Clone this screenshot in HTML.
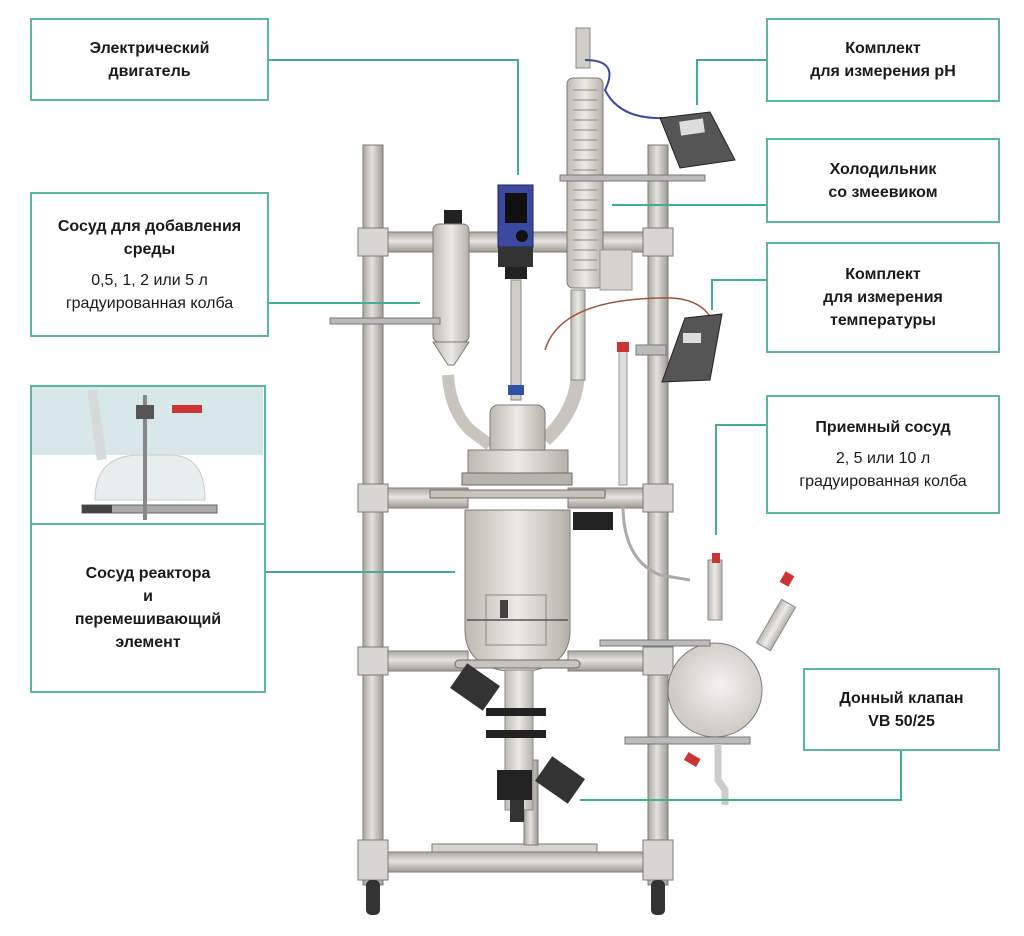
<!DOCTYPE html>
<html><head><meta charset="utf-8"><style>
html,body{margin:0;padding:0;background:#fff;}
body{width:1024px;height:936px;position:relative;overflow:hidden;font-family:"Liberation Sans","DejaVu Sans",sans-serif;}
.box{position:absolute;border:2px solid #5cb89c;background:#fff;box-sizing:border-box;text-align:center;color:#1a1a1a;font-size:16px;line-height:23px;display:flex;flex-direction:column;justify-content:center;}
.b{font-weight:bold;}
svg{position:absolute;left:0;top:0;}
</style></head><body>
<svg width="1024" height="936" viewBox="0 0 1024 936">
<defs>
<linearGradient id="pv" x1="0" x2="1"><stop offset="0" stop-color="#a9a59e"/><stop offset=".45" stop-color="#e4e2de"/><stop offset="1" stop-color="#9d9992"/></linearGradient>
<linearGradient id="ph" x1="0" x2="0" y1="0" y2="1"><stop offset="0" stop-color="#a9a59e"/><stop offset=".45" stop-color="#e6e4e0"/><stop offset="1" stop-color="#9d9992"/></linearGradient>
<linearGradient id="gl" x1="0" x2="1"><stop offset="0" stop-color="#bdb9b2"/><stop offset=".5" stop-color="#eceae6"/><stop offset="1" stop-color="#b5b1aa"/></linearGradient>
<radialGradient id="fl" cx=".55" cy=".45"><stop offset="0" stop-color="#f4f3f1"/><stop offset="1" stop-color="#cfccc6"/></radialGradient>
</defs>
<!-- frame poles -->
<rect x="363" y="145" width="20" height="740" fill="url(#pv)" stroke="#7d7a74"/>
<rect x="648" y="145" width="20" height="740" fill="url(#pv)" stroke="#7d7a74"/>
<!-- horizontal bars -->
<rect x="383" y="232" width="265" height="20" fill="url(#ph)" stroke="#7d7a74"/>
<rect x="383" y="488" width="85" height="20" fill="url(#ph)" stroke="#7d7a74"/>
<rect x="568" y="488" width="80" height="20" fill="url(#ph)" stroke="#7d7a74"/>
<rect x="383" y="651" width="85" height="20" fill="url(#ph)" stroke="#7d7a74"/>
<rect x="568" y="651" width="80" height="20" fill="url(#ph)" stroke="#7d7a74"/>
<rect x="383" y="852" width="265" height="20" fill="url(#ph)" stroke="#7d7a74"/>
<!-- joints -->
<g fill="#d8d6d2" stroke="#7d7a74">
<rect x="358" y="228" width="30" height="28"/><rect x="643" y="228" width="30" height="28"/>
<rect x="358" y="484" width="30" height="28"/><rect x="643" y="484" width="30" height="28"/>
<rect x="358" y="647" width="30" height="28"/><rect x="643" y="647" width="30" height="28"/>
<rect x="358" y="840" width="30" height="40"/><rect x="643" y="840" width="30" height="40"/>
</g>
<!-- wheels -->
<rect x="366" y="880" width="14" height="35" rx="5" fill="#333"/>
<rect x="651" y="880" width="14" height="35" rx="5" fill="#333"/>
<!-- tray -->
<rect x="432" y="844" width="165" height="8" fill="#d6d3ce" stroke="#7d7a74"/>
<rect x="524" y="760" width="14" height="85" fill="url(#pv)" stroke="#7d7a74"/>
<!-- addition vessel -->
<rect x="444" y="210" width="18" height="14" fill="#222"/>
<rect x="433" y="224" width="36" height="118" rx="6" fill="url(#gl)" stroke="#7d7a74"/>
<polygon points="433,342 469,342 454,365 448,365" fill="url(#gl)" stroke="#7d7a74"/>
<rect x="330" y="318" width="110" height="6" fill="#bbb" stroke="#777"/>
<path d="M448 375 Q450 410 470 430 L490 445" stroke="#c8c5bf" stroke-width="12" fill="none"/>
<!-- motor -->
<rect x="498" y="185" width="35" height="62" fill="#3b4aa0" stroke="#1e2560"/>
<rect x="505" y="193" width="22" height="30" fill="#111"/>
<circle cx="522" cy="236" r="6" fill="#111"/>
<rect x="498" y="247" width="35" height="20" fill="#333"/>
<rect x="505" y="267" width="22" height="12" fill="#222"/>
<rect x="511" y="280" width="10" height="120" fill="#cfccc6" stroke="#888"/>
<rect x="508" y="385" width="16" height="10" fill="#3050a8"/>
<!-- condenser -->
<rect x="576" y="28" width="14" height="40" fill="#d0cdc7" stroke="#888"/>
<rect x="567" y="78" width="36" height="210" rx="6" fill="url(#gl)" stroke="#7d7a74"/>
<g stroke="#8b8780" fill="none">
<path d="M573 90 h24 M573 100 h24 M573 110 h24 M573 120 h24 M573 130 h24 M573 140 h24 M573 150 h24 M573 160 h24 M573 170 h24 M573 180 h24 M573 190 h24 M573 200 h24 M573 210 h24 M573 220 h24 M573 230 h24 M573 240 h24 M573 250 h24 M573 260 h24 M573 270 h24"/>
</g>
<rect x="600" y="250" width="32" height="40" fill="#d6d3ce" stroke="#999"/>
<rect x="560" y="175" width="145" height="6" fill="#bbb" stroke="#777"/>
<path d="M585 60 Q620 60 605 90 Q620 120 665 118" stroke="#3b4aa0" stroke-width="2" fill="none"/>
<path d="M578 290 L578 370 Q578 410 545 440" stroke="#c8c5bf" stroke-width="14" fill="none"/>
<rect x="571" y="290" width="14" height="90" fill="url(#gl)" stroke="#888"/>
<path d="M545 350 Q560 300 660 298 Q700 296 712 320" stroke="#a0523d" stroke-width="1.5" fill="none"/>
<rect x="619" y="345" width="8" height="140" fill="#ddd" stroke="#999"/>
<rect x="617" y="342" width="12" height="10" fill="#c33"/>
<path d="M623 505 Q623 560 660 575 L690 580" stroke="#aaa" stroke-width="3" fill="none"/>
<!-- pH meter -->
<polygon points="660,118 710,112 735,160 680,168" fill="#555" stroke="#222"/>
<rect x="680" y="120" width="24" height="14" fill="#ddd" transform="rotate(-8 692 127)"/>
<!-- temperature meter -->
<polygon points="685,318 722,314 710,380 662,382" fill="#555" stroke="#222"/>
<rect x="683" y="333" width="18" height="10" fill="#ddd"/>
<rect x="636" y="345" width="30" height="10" fill="#bbb" stroke="#777"/>
<!-- reactor -->
<rect x="490" y="405" width="55" height="50" rx="8" fill="url(#gl)" stroke="#7d7a74"/>
<rect x="468" y="450" width="100" height="30" fill="url(#gl)" stroke="#7d7a74"/>
<rect x="462" y="473" width="110" height="12" fill="#b8b4ad" stroke="#6d6a64"/>
<rect x="430" y="490" width="175" height="8" fill="#c6c3bd" stroke="#6d6a64"/>
<path d="M465 510 L570 510 L570 630 Q570 670 518 672 Q465 670 465 630 Z" fill="url(#gl)" stroke="#7d7a74"/>
<rect x="486" y="595" width="60" height="50" fill="none" stroke="#8b8780"/>
<rect x="500" y="600" width="8" height="18" fill="#444"/>
<path d="M467 620 H568" stroke="#555" stroke-width="1.5"/>
<rect x="573" y="512" width="40" height="18" fill="#222"/>
<rect x="455" y="660" width="125" height="8" rx="4" fill="#c6c3bd" stroke="#6d6a64"/>
<rect x="455" y="672" width="40" height="30" fill="#333" transform="rotate(35 475 687)"/>
<!-- bottom valve -->
<rect x="505" y="670" width="28" height="140" fill="url(#gl)" stroke="#888"/>
<rect x="486" y="708" width="60" height="8" fill="#222"/>
<rect x="486" y="730" width="60" height="8" fill="#222"/>
<rect x="497" y="770" width="35" height="30" fill="#222"/>
<rect x="540" y="765" width="40" height="30" fill="#333" transform="rotate(35 560 780)"/>
<rect x="510" y="800" width="14" height="22" fill="#333"/>
<!-- receiving flask -->
<rect x="708" y="560" width="14" height="60" fill="url(#gl)" stroke="#888"/>
<rect x="712" y="553" width="8" height="10" fill="#c33"/>
<rect x="768" y="600" width="16" height="50" fill="url(#gl)" stroke="#888" transform="rotate(30 776 625)"/>
<rect x="782" y="573" width="10" height="12" fill="#c33" transform="rotate(30 787 579)"/>
<circle cx="715" cy="690" r="47" fill="url(#fl)" stroke="#7d7a74"/>
<rect x="600" y="640" width="110" height="6" fill="#bbb" stroke="#777"/>
<rect x="625" y="737" width="125" height="7" fill="#bbb" stroke="#777"/>
<path d="M718 744 V780 L725 790 V805" stroke="#ccc" stroke-width="7" fill="none"/>
<rect x="685" y="755" width="14" height="9" fill="#c33" transform="rotate(30 692 760)"/>
<!-- connectors -->
<g stroke="#3fae94" stroke-width="2" fill="none">
<path d="M268 60 H518 V175"/>
<path d="M268 303 H420"/>
<path d="M265 572 H455"/>
<path d="M766 60 H697 V105"/>
<path d="M766 205 H612"/>
<path d="M766 280 H712 V310"/>
<path d="M766 425 H716 V535"/>
<path d="M901 750 V800 H580"/>
</g>
<!-- photo inset -->
<rect x="32" y="387" width="231" height="136" fill="#fff"/>
<rect x="32" y="387" width="231" height="68" fill="#d8e8ea"/>
<path d="M95 500 Q95 455 140 455 H170 Q205 455 205 500 Z" fill="#e8eeee" stroke="#c8cccc"/>
<rect x="82" y="505" width="135" height="8" fill="#aaa" stroke="#666"/>
<rect x="82" y="505" width="30" height="8" fill="#444"/>
<rect x="143" y="395" width="4" height="125" fill="#888"/>
<rect x="136" y="405" width="18" height="14" fill="#555"/>
<rect x="172" y="405" width="30" height="8" fill="#c33"/>
<rect x="92" y="390" width="10" height="70" fill="#d5dada" transform="rotate(-8 97 425)"/>
</svg>
<div class="box b" style="left:30px;top:18px;width:239px;height:83px;">Электрический<br>двигатель</div>
<div class="box" style="left:30px;top:192px;width:239px;height:145px;"><span class="b">Сосуд для добавления<br>среды</span><span style="margin-top:8px">0,5, 1, 2 или 5 л<br>градуированная колба</span></div>
<div class="box" style="left:30px;top:385px;width:236px;height:308px;border-width:2px;background:transparent;"></div>
<div class="box b" style="left:30px;top:523px;width:236px;height:170px;">Сосуд реактора<br>и<br>перемешивающий<br>элемент</div>
<div class="box b" style="left:766px;top:18px;width:234px;height:84px;">Комплект<br>для измерения pH</div>
<div class="box b" style="left:766px;top:138px;width:234px;height:85px;">Холодильник<br>со змеевиком</div>
<div class="box b" style="left:766px;top:242px;width:234px;height:111px;">Комплект<br>для измерения<br>температуры</div>
<div class="box" style="left:766px;top:395px;width:234px;height:119px;"><span class="b">Приемный сосуд</span><span style="margin-top:8px">2, 5 или 10 л<br>градуированная колба</span></div>
<div class="box b" style="left:803px;top:668px;width:197px;height:83px;">Донный клапан<br>VB 50/25</div>
</body></html>
